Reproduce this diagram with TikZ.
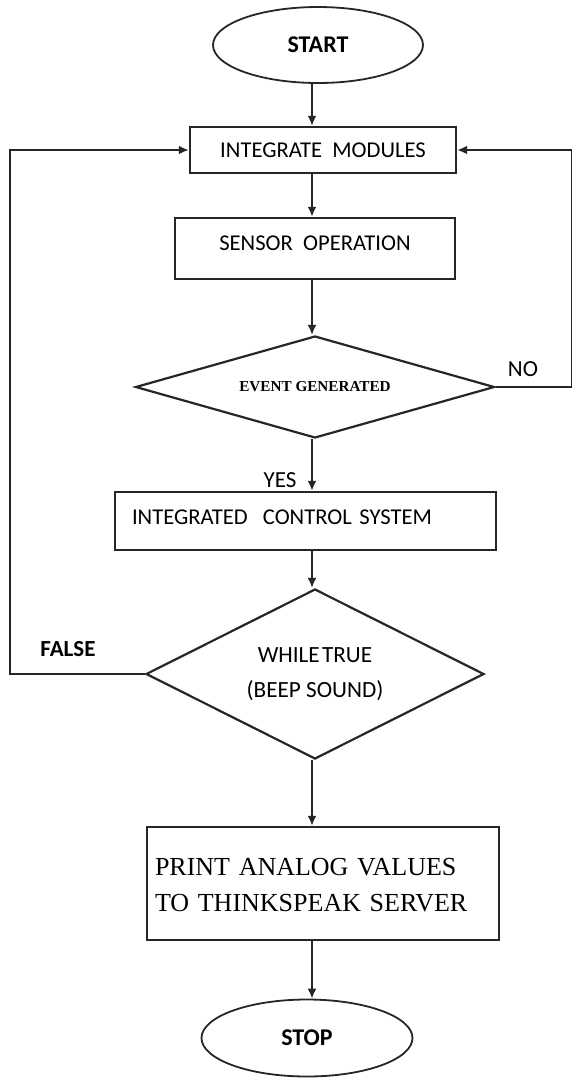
\documentclass[tikz,border=0pt]{standalone}
\usepackage{fontspec}
\setmainfont{Carlito}
\newfontfamily\serifrm{Liberation Serif}
\usetikzlibrary{positioning, arrows.meta, shapes.geometric}

\tikzset{
  flowline/.style={line width=1pt, draw=black!85},
  flowarrow/.style={flowline, -{Latex[length=5pt, width=4.5pt]}},
  procbox/.style={draw=black!85, line width=1.2pt, rectangle, inner sep=0pt,
    font=\fontsize{11.3}{13.5}\selectfont},
  terminal/.style={draw=black!85, line width=0.9pt, ellipse, inner sep=0pt,
    font=\bfseries\fontsize{12}{14}\selectfont},
  decision/.style={draw=black!85, line width=1.1pt, diamond, inner sep=0pt},
  flowlabel/.style={font=\fontsize{11.5}{13.5}\selectfont},
}

\begin{document}
\begin{tikzpicture}[x=0.5pt, y=-0.5pt]
  \useasboundingbox (0,0) rectangle (572,1078);
  % main column and the two return rails
  \coordinate (axis) at (312,0);
  \coordinate (leftrail) at (10,0);
  \coordinate (rightrail) at (572,0);

  % blocks
  \node[terminal, minimum width=105pt, minimum height=38pt] (start) at (318,45) {START};
  \node[procbox, minimum width=133pt, minimum height=23pt] (modules) at (323,150)
    {INTEGRATE\ \ MODULES};
  \node[procbox, minimum width=140pt, minimum height=30.5pt, text height=7.3pt,
    text depth=5pt] (sensor) at (315,248.5) {SENSOR\ \ OPERATION};
  \node[decision, aspect=3.5, minimum width=179.5pt, minimum height=51pt,
    font=\serifrm\bfseries\fontsize{7.6}{9}\selectfont] (event) at (315,387)
    {EVENT GENERATED};
  \node[procbox, minimum width=190.5pt, minimum height=29pt, text width=173.5pt,
    inner xsep=8.5pt, align=left, text height=7.3pt, text depth=4pt] (control)
    at (305.5,521) {INTEGRATED\ \ CONTROL\ SYSTEM};
  \node[decision, aspect=2, minimum width=169pt, minimum height=85pt, align=center,
    font=\fontsize{11.6}{17.5}\selectfont] (beep) at (315,674)
    {WHILE\hspace{0.1em}TRUE\\(BEEP SOUND)};
  \node[procbox, minimum width=176pt, minimum height=56.5pt, text width=168pt,
    inner xsep=4pt, align=left, text depth=16.5pt,
    font=\serifrm\fontsize{13}{18}\selectfont] (print) at (323,883.5)
    {PRINT ANALOG VALUES\\TO THINKSPEAK SERVER};
  \node[terminal, minimum width=105.5pt, minimum height=38.5pt] (stop) at (307,1038) {STOP};

  % branch labels
  \node[flowlabel] (nolabel) at (523,369) {NO};
  \node[flowlabel] (yeslabel) at (280,480) {YES};
  \node[flowlabel, font=\bfseries\fontsize{11.5}{13.5}\selectfont] (falselabel) at (68,649) {FALSE};

  % main flow
  \draw[flowarrow] (axis |- start.south) -- (axis |- modules.north);
  \draw[flowarrow] (axis |- modules.south) -- (axis |- sensor.north);
  \draw[flowarrow] (axis |- sensor.south) -- (axis |- event.north);
  \draw[flowarrow] (axis |- event.south) -- (axis |- control.north);
  \draw[flowarrow] (axis |- control.south) -- (axis |- beep.north);
  \draw[flowarrow] (axis |- beep.south) -- (axis |- print.north);
  \draw[flowarrow] (axis |- print.south) -- (axis |- stop.north);

  % loops back to the modules
  \draw[flowarrow] (event.east) -- (rightrail |- event.east)
    -- (rightrail |- modules.east) -- (modules.east);
  \draw[flowarrow] (beep.west) -- (leftrail |- beep.west)
    -- (leftrail |- modules.west) -- (modules.west);
\end{tikzpicture}
\end{document}
